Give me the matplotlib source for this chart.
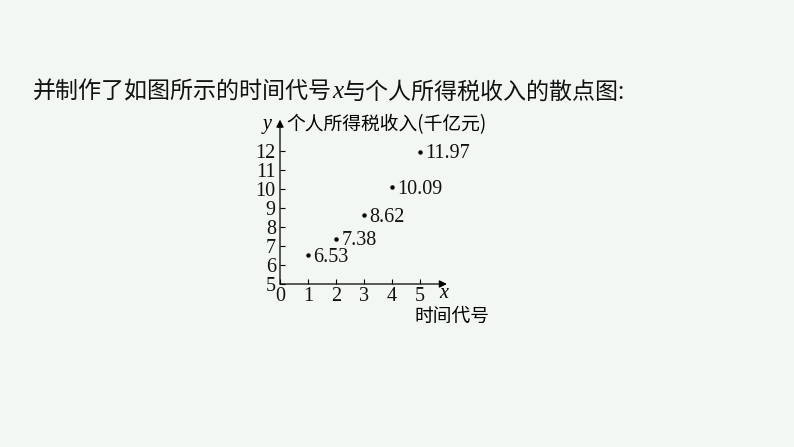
import matplotlib
matplotlib.use("Agg")
import matplotlib.pyplot as plt

# ---- data ----
x_vals = [1, 2, 3, 4, 5]
y_vals = [6.53, 7.38, 8.62, 10.09, 11.97]
x_ticks = [0, 1, 2, 3, 4, 5]
y_ticks = [5, 6, 7, 8, 9, 10, 11, 12]
title_parts = ["并制作了如图所示的时间代号", "x", "与个人所得税收入的散点图:"]
y_name = "个人所得税收入(千亿元)"
x_name = "时间代号"

BG = "#f3f7f3"
CJK = ["Noto Sans CJK SC", "DejaVu Sans"]
SERIF = ["Liberation Serif", "DejaVu Serif"]
W, H = 794, 447
NUM_FS = 14.5

fig = plt.figure(figsize=(W / 100, H / 100), dpi=100, facecolor=BG)

# ---- title made of pieces ----
renderer = fig.canvas.get_renderer()
xpos = 33
ty = 1 - 92 / H
styles = [dict(family=CJK, fontsize=16.6),
          dict(family=SERIF, fontsize=18, style="italic"),
          dict(family=CJK, fontsize=16.6)]
for part, st in zip(title_parts, styles):
    t = fig.text(xpos / W, ty, part, va="center", ha="left", color="#111111", **st)
    bb = t.get_window_extent(renderer)
    xpos += bb.width

# ---- axes ----
ux, uy = 28, 19
x0px, y0px = 280, 284
xmax, ymax = 6.2, 13.8
ax = fig.add_axes([x0px / W, 1 - y0px / H, xmax * ux / W, (ymax - 5) * uy / H])
ax.set_facecolor(BG)
ax.set_xlim(0, xmax)
ax.set_ylim(5, ymax)
for s in ax.spines.values():
    s.set_visible(False)

arrow = dict(arrowstyle="-|>", color="black", lw=0.9, mutation_scale=11,
             shrinkA=0, shrinkB=0)
ax.annotate("", xy=(5.96, 5), xytext=(0, 5), arrowprops=arrow, annotation_clip=False)
ax.annotate("", xy=(0, 13.65), xytext=(0, 5), arrowprops=arrow, annotation_clip=False)

ax.set_xticks(x_ticks)
ax.set_xticklabels([str(v) for v in x_ticks], family=SERIF, fontsize=NUM_FS)
ax.set_yticks(y_ticks)
ax.set_yticklabels([str(v) for v in y_ticks], family=SERIF, fontsize=NUM_FS)
ax.tick_params(axis="both", direction="in", length=3.5, width=0.8, color="black",
               labelcolor="#111111")
ax.tick_params(axis="x", pad=2.5)
ax.tick_params(axis="y", pad=3)

# ---- points and value labels ----
ax.plot(x_vals, y_vals, "o", color="black", markersize=2.2, clip_on=False)
for xv, yv in zip(x_vals, y_vals):
    ax.annotate(f"{yv:.2f}", xy=(xv, yv), xytext=(4, -1.5), textcoords="offset points",
                ha="left", va="center", family=SERIF, fontsize=NUM_FS, color="#111111",
                annotation_clip=False)

# ---- axis names ----
ax.text(-0.46, 13.37, "y", family=SERIF, style="italic", fontsize=NUM_FS,
        ha="center", va="center", clip_on=False)
ax.text(0.21, 13.37, y_name, family=CJK, fontsize=13.5, ha="left", va="center",
        clip_on=False)
ax.text(5.84, 4.5, "x", family=SERIF, style="italic", fontsize=NUM_FS,
        ha="center", va="center", clip_on=False)
ax.text(6.14, 3.3, x_name, family=CJK, fontsize=13.5, ha="center", va="center",
        clip_on=False)

fig.savefig("out.png", dpi=100, facecolor=BG)
